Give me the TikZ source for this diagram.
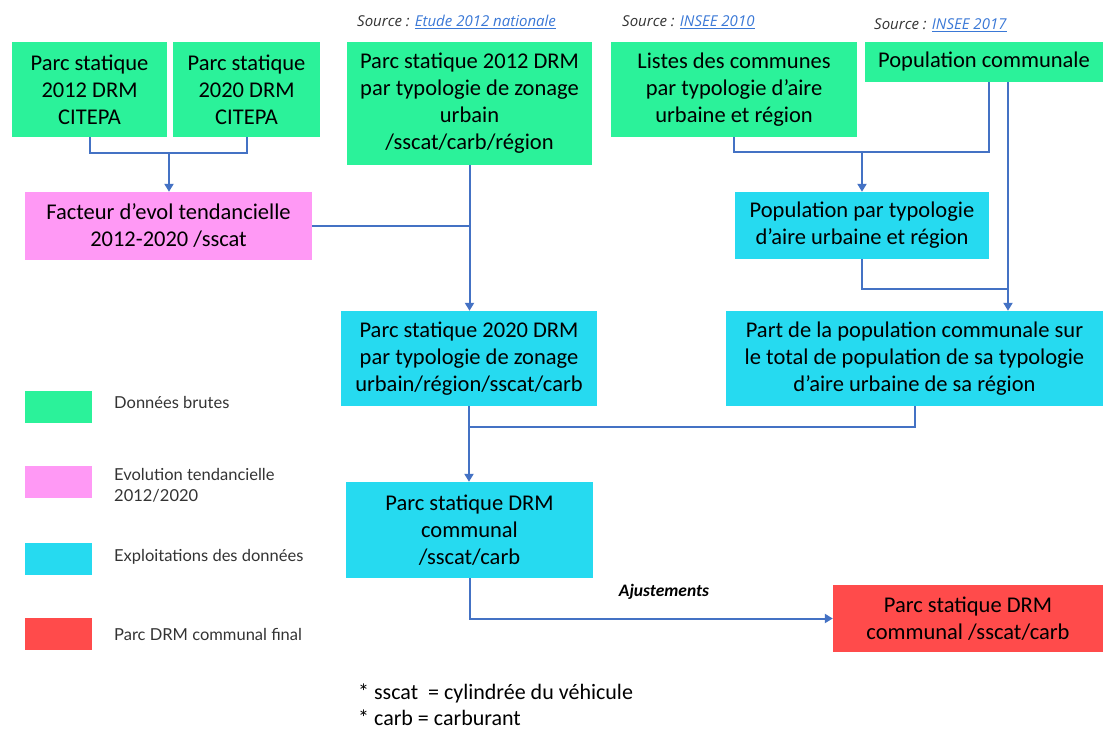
\documentclass[tikz,border=0pt]{standalone}
\usepackage{fontspec}
\setmainfont{Carlito}
\newfontfamily\legfont{Lato}
\newfontfamily\srcfont{Open Sans}
\usetikzlibrary{arrows.meta,calc}
\definecolor{cgreen}{HTML}{2BF29A}
\definecolor{cpink}{HTML}{FF99F5}
\definecolor{ccyan}{HTML}{26DAF0}
\definecolor{cred}{HTML}{FF4B4B}
\definecolor{cline}{HTML}{4472C4}
\definecolor{clink}{HTML}{3A78D6}
\definecolor{cgray}{HTML}{333333}
\tikzset{
  box/.style={inner sep=0pt, align=center, anchor=center, text=black},
  conn/.style={draw=cline, line width=2pt},
  arr/.style={conn, -{Triangle[width=9pt,length=8pt]}},
  legbox/.style={inner sep=0pt, minimum width=67pt, minimum height=32pt, anchor=north west},
  legtext/.style={inner sep=0pt, anchor=west, align=left, text=cgray, font=\legfont\fontsize{16.5}{21}\selectfont},
  srctext/.style={inner sep=0pt, anchor=west, font=\srcfont\itshape\fontsize{15}{17}\selectfont},
}
\newcommand{\lnk}[1]{\textcolor{clink}{\underline{#1}}}
\begin{document}
\begin{tikzpicture}[x=1pt,y=-1pt,font=\fontsize{22.5}{27}\selectfont]
\useasboundingbox (0,0) rectangle (1103,731);
% sources
\node[srctext] (s1) at (357,22) {\textcolor{cgray}{Source :} \lnk{Etude 2012 nationale}};
\node[srctext] (s2) at (622,22) {\textcolor{cgray}{Source :} \lnk{INSEE 2010}};
\node[srctext] (s3) at (874,25) {\textcolor{cgray}{Source :} \lnk{INSEE 2017}};
% boxes
\node[box, fill=cgreen, minimum width=155, minimum height=95] (b1) at (89.5,89.5) {Parc statique\\2012 DRM\\CITEPA};
\node[box, fill=cgreen, minimum width=147, minimum height=95] (b2) at (246.5,89.5) {Parc statique\\2020 DRM\\CITEPA};
\node[box, fill=cgreen, minimum width=245, minimum height=123] (b3) at (469.5,103.5) {Parc statique 2012 DRM\\par typologie de zonage\\urbain\\/sscat/carb/région};
\node[box, fill=cgreen, minimum width=246, minimum height=95] (b4) at (734,89.5) {Listes des communes\\par typologie d’aire\\urbaine et région};
\node[box, fill=cgreen, minimum width=238, minimum height=40] (b5) at (984,62) {Population communale};
\node[box, fill=cpink, minimum width=287, minimum height=68] (b6) at (168.5,226) {Facteur d’evol tendancielle\\2012-2020 /sscat};
\node[box, fill=ccyan, minimum width=254, minimum height=67] (b7) at (862,225.5) {Population par typologie\\d’aire urbaine et région};
\node[box, fill=ccyan, minimum width=256, minimum height=95] (b8) at (469,358.5) {Parc statique 2020 DRM\\par typologie de zonage\\urbain/région/sscat/carb};
\node[box, fill=ccyan, minimum width=377, minimum height=95] (b9) at (914.5,358.5) {Part de la population communale sur\\le total de population de sa typologie\\d’aire urbaine de sa région};
\node[box, fill=ccyan, minimum width=247, minimum height=96] (b10) at (469.5,530) {Parc statique DRM\\communal\\/sscat/carb};
\node[box, fill=cred, minimum width=270, minimum height=67] (b11) at (968,618.5) {Parc statique DRM\\communal /sscat/carb};
% connectors
\coordinate (j1) at (169,153);
\draw[conn] (b1.south) -- (b1.south |- j1) -- (b2.south |- j1) -- (b2.south);
\draw[arr] (j1) -- (j1 |- b6.north);
\draw[conn] (b6.east) -- (b6.east -| b3.south);
\draw[arr] (b3.south) -- (b3.south |- b8.north);
\coordinate (j2) at (862,152);
\coordinate (p5a) at ([xshift=5pt]b5.south);
\coordinate (p5b) at ([xshift=24pt]b5.south);
\draw[conn] (b4.south) -- (b4.south |- j2) -- (p5a |- j2) -- (p5a);
\draw[arr] (j2) -- (j2 |- b7.north);
\draw[arr] (p5b) -- (p5b |- b9.north);
\coordinate (j3) at (1008.5,289);
\draw[conn] (b7.south) |- (j3);
\draw[arr] (b8.south) -- (b8.south |- b10.north);
\coordinate (j4) at (469,427);
\draw[conn] (j4) -| (b9.south);
\draw[arr] (b10.south) |- (b11.west);
\node[inner sep=0pt, font=\bfseries\itshape\fontsize{17.5}{20}\selectfont] (aj) at (664,592) {Ajustements};
% legend
\node[legbox, fill=cgreen] (l1) at (25,391) {};
\node[legbox, fill=cpink] (l2) at (25,466) {};
\node[legbox, fill=ccyan] (l3) at (25,543) {};
\node[legbox, fill=cred] (l4) at (25,618) {};
\node[legtext] (t1) at (114,402) {Données brutes};
\node[legtext] (t2) at (114,485) {Evolution tendancielle\\2012/2020};
\node[legtext] (t3) at (114,557) {Exploitations des données};
\node[legtext] (t4) at (114,634) {Parc DRM communal final};
% footnote
\node[inner sep=0pt, anchor=west, align=left, font=\fontsize{22}{26}\selectfont] (fn) at (358,705) {* sscat \ = cylindrée du véhicule\\* carb = carburant};
\end{tikzpicture}
\end{document}
